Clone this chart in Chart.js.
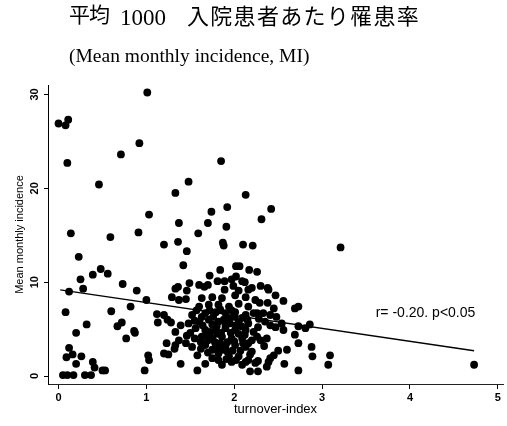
<!DOCTYPE html>
<html>
<head>
<meta charset="utf-8">
<script src="https://cdn.jsdelivr.net/npm/chart.js@4.4.1/dist/chart.umd.min.js"></script>
<style>
  html, body { margin: 0; padding: 0; background: #fff; }
  #wrap { position: relative; width: 507px; height: 426px; overflow: hidden; }
  #chart { position: absolute; left: 0; top: 0; }
  .t { position: absolute; white-space: pre; line-height: 1; color: #000; }
  .cjk { font-family: "Noto Sans CJK JP", sans-serif; }
  .ser { font-family: "Liberation Serif", "DejaVu Serif", serif; }
</style>
</head>
<body>
<div id="wrap">
  <canvas id="chart" width="507" height="426"></canvas>
  <span class="t cjk" style="left:69px;top:3px;font-size:21px;letter-spacing:-1px;">平均</span>
  <span class="t ser" style="left:120px;top:6px;font-size:23px;">1000</span>
  <span class="t cjk" style="left:187px;top:3px;font-size:22px;letter-spacing:1.3px;">入院患者あたり罹患率</span>
  <span class="t ser" style="left:69px;top:46px;font-size:19.5px;">(Mean monthly incidence, MI)</span>
</div>
<script>
// turnover-index of each ward (x) and mean monthly incidence (y)
const turnoverIndex = [
  0.00,0.08,0.11,0.10,0.46,1.01,0.71,0.92,0.14,0.23,0.59,0.91,1.03,1.33,1.48,1.85,2.13,1.37,1.20,1.36,1.46,1.59,1.70,1.74,1.92,1.91,1.87,1.88,2.10,2.21,2.42,2.31,3.21,
  1.42,1.84,2.02,2.06,2.17,2.26,1.72,1.36,1.49,1.60,1.70,1.81,1.89,1.97,2.02,2.12,2.20,2.30,2.38,2.47,
  0.48,0.39,0.56,0.25,0.73,0.28,0.12,0.89,1.00,0.08,0.60,0.82,1.12,1.20,1.13,1.24,1.28,0.32,0.67,0.72,0.86,0.87,0.20,0.77,1.23,1.32,1.25,1.20,0.12,0.16,0.09,0.26,0.20,0.39,0.41,1.02,1.03,0.50,0.53,0.98,0.05,0.10,0.17,0.30,0.37,
  2.39,2.29,2.38,2.56,2.69,2.73,2.45,2.26,2.33,2.41,2.48,2.28,2.54,2.47,2.41,2.56,2.73,2.81,2.86,2.26,2.30,2.37,2.69,2.73,2.60,2.88,2.89,3.09,3.07,2.50,2.45,2.41,2.39,2.37,2.27,2.57,2.27,2.73,4.73,
  1.66,2.09,1.33,1.46,1.89,1.99,2.05,2.16,1.29,1.37,1.45,1.63,1.75,1.86,2.01,2.13,2.24,1.60,1.71,1.82,1.94,2.05,2.16,1.52,1.67,1.79,1.90,2.01,2.13,2.22,1.48,1.60,1.71,1.82,1.94,2.05,2.16,
  1.33,1.56,1.67,1.79,1.90,2.01,2.13,2.22,1.37,1.63,1.75,1.86,1.97,2.09,2.20,1.67,1.79,1.90,2.01,2.13,1.82,1.94,2.05,2.16,1.75,1.86,2.09,2.24,1.58,2.18,1.39,1.46,1.39,1.45,1.52,1.67,1.82,1.97,2.13,1.33,
  1.85,1.95,2.05,1.75,1.92,2.00,1.88,2.08,1.78,1.69,2.10,1.98,1.86,2.15,1.57,1.55,2.20,1.70,
  1.72,1.84,1.97,2.09,1.63,1.76,1.90,2.02,1.80,1.64,1.73,1.96,2.12,1.81,1.70,1.84,2.00,2.16,1.75,1.92,2.07,1.62,2.02,1.91,1.62,1.55,2.27,2.35,2.34,2.18,1.50,1.58
];
const meanIncidence = [
  26.9,26.7,27.3,22.7,20.4,30.2,23.6,24.8,15.2,12.7,14.8,15.3,17.2,19.5,20.7,22.9,19.3,16.3,14.0,14.3,13.3,15.2,16.3,17.5,18.0,15.9,14.2,13.9,14.0,13.9,17.8,16.7,13.7,
  11.8,11.3,11.7,11.7,11.3,11.1,10.7,9.5,9.9,9.7,9.7,10.1,10.1,10.3,10.6,10.0,9.4,9.6,9.4,8.6,
  11.4,10.8,10.9,10.3,9.8,9.3,9.0,9.1,8.1,6.8,6.9,7.4,6.6,6.5,5.7,6.0,5.7,5.5,5.3,5.7,4.8,4.6,4.6,4.0,3.5,2.9,2.3,2.4,3.0,2.3,2.0,2.1,1.3,1.5,0.9,2.2,1.7,0.6,0.6,0.6,0.1,0.1,0.1,0.1,0.1,
  9.2,7.8,7.8,8.0,7.2,7.4,7.2,6.7,6.7,6.5,6.3,6.1,5.6,5.2,5.4,4.9,5.3,5.1,5.5,4.2,3.8,4.0,4.4,3.5,2.8,3.1,2.1,2.2,1.2,2.7,2.2,1.9,1.5,1.0,1.6,1.3,0.5,0.6,1.2,
  9.5,10.1,9.3,9.1,9.2,9.6,9.1,9.2,8.4,8.1,8.2,8.3,8.4,8.3,8.6,8.4,8.1,7.4,7.6,7.6,7.4,7.7,7.4,6.5,6.7,6.8,6.7,6.8,6.5,6.7,5.6,5.8,6.0,5.8,6.1,5.8,5.6,
  4.7,5.1,4.9,4.9,5.1,4.9,4.9,4.7,3.8,4.2,4.0,4.2,4.0,4.0,3.8,3.3,3.1,3.1,3.3,3.1,2.4,2.1,2.1,1.7,1.9,1.2,1.2,1.4,0.6,0.5,1.3,4.3,5.4,3.5,3.1,1.3,1.7,1.5,1.5,3.3,
  4.6,5.6,4.5,5.5,3.6,6.3,6.0,5.3,3.6,4.5,3.5,2.7,2.8,6.0,7.0,4.0,2.6,2.5,
  7.0,7.1,7.0,6.2,6.3,6.3,5.5,5.4,5.3,5.4,4.7,4.6,4.4,4.5,3.8,3.5,3.7,3.5,2.8,2.6,2.7,2.9,1.7,1.8,3.6,5.9,5.2,5.8,3.2,2.3,4.6,2.2
];
// fitted regression line end points
const fitX = [0.02, 4.73];
const fitY = [9.18, 2.69];
// tick labels
const xTicks = [0, 1, 2, 3, 4, 5];
const yTicks = [0, 10, 20, 30];
const statText = 'r= -0.20. p<0.05';

const points = turnoverIndex.map((x, i) => ({ x: x, y: meanIncidence[i] }));
const fitLine = fitX.map((x, i) => ({ x: x, y: fitY[i] }));

const statLabel = {
  id: 'statLabel',
  afterDatasetsDraw(chart) {
    const { ctx, scales } = chart;
    ctx.save();
    ctx.font = '14px "Liberation Sans", Arial, sans-serif';
    ctx.fillStyle = '#000';
    ctx.textBaseline = 'alphabetic';
    ctx.textAlign = 'left';
    ctx.fillText(statText, scales.x.getPixelForValue(3.61), scales.y.getPixelForValue(6.28));
    ctx.restore();
  }
};

const tickFont = { family: '"Liberation Sans", Arial, sans-serif', size: 11, weight: 'bold' };
const titleFont = { family: '"Liberation Sans", Arial, sans-serif', size: 11 };

new Chart(document.getElementById('chart'), {
  type: 'scatter',
  data: {
    datasets: [
      {
        data: points,
        pointRadius: 3.9,
        pointHoverRadius: 3.9,
        backgroundColor: '#000',
        borderColor: '#000',
        borderWidth: 0,
        order: 2
      },
      {
        data: fitLine,
        showLine: true,
        pointRadius: 0,
        borderColor: '#000',
        borderWidth: 1.3,
        fill: false,
        order: 1
      }
    ]
  },
  options: {
    responsive: false,
    animation: false,
    events: [],
    layout: { padding: { top: 85, right: 1, bottom: 0, left: 0 } },
    plugins: { legend: { display: false }, tooltip: { enabled: false }, title: { display: false } },
    scales: {
      x: {
        type: 'linear',
        min: -0.12,
        max: 5.06,
        afterBuildTicks: s => { s.ticks = xTicks.map(v => ({ value: v })); },
        afterFit: s => { s.height = 42; },
        grid: { display: true, drawOnChartArea: false, drawTicks: true, tickLength: 5, color: '#000', lineWidth: 1 },
        border: { display: true, color: '#222', width: 1, dash: [3, 1] },
        ticks: { color: '#000', font: tickFont, padding: 2, maxRotation: 0, minRotation: 0 },
        title: { display: true, text: 'turnover-index', color: '#000', font: { family: '"Liberation Sans", Arial, sans-serif', size: 13 }, padding: { top: 0, bottom: 9 } }
      },
      y: {
        type: 'linear',
        min: -0.85,
        max: 31,
        afterBuildTicks: s => { s.ticks = yTicks.map(v => ({ value: v })); },
        afterFit: s => { s.width = 48; },
        grid: { display: true, drawOnChartArea: false, drawTicks: true, tickLength: 4, color: '#000', lineWidth: 1 },
        border: { display: true, color: '#000', width: 1 },
        ticks: { color: '#000', font: tickFont, padding: 3, minRotation: 90, maxRotation: 90, crossAlign: 'center' },
        title: { display: true, text: 'Mean monthly incidence', color: '#000', font: titleFont, padding: { top: 13, bottom: 0 } }
      }
    }
  },
  plugins: [statLabel]
});
</script>
</body>
</html>
